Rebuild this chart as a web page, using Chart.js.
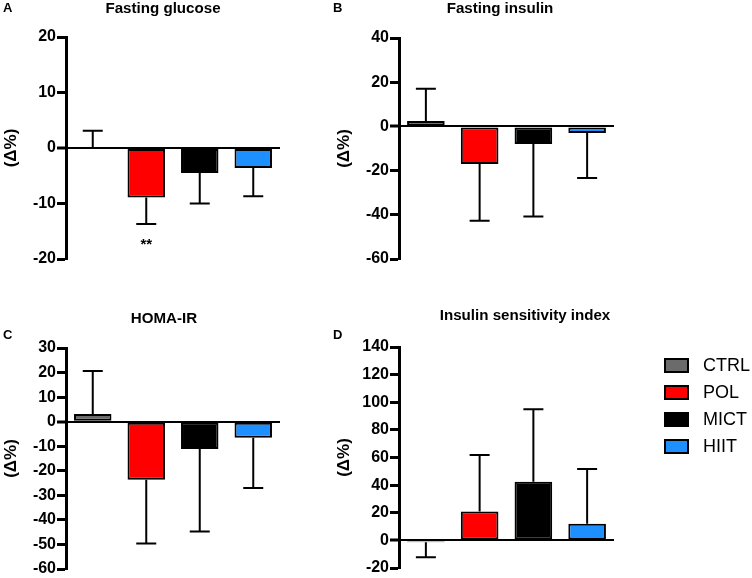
<!DOCTYPE html>
<html>
<head>
<meta charset="utf-8">
<script src="https://cdn.jsdelivr.net/npm/chart.js@4/dist/chart.umd.min.js"></script>
<style>
  body { margin: 0; background: #fff; font-family: "Liberation Sans", Arial, sans-serif; }
  #wrap { position: relative; width: 752px; height: 578px; overflow: hidden; }
  .panel { position: absolute; }
  .lbl { position: absolute; font-weight: bold; color: #000; white-space: nowrap; }
  .letter { font-size: 13px; }
  .title { font-size: 14px; transform: translateX(-50%) scaleX(1.08); }
  .legend { position: absolute; left: 664px; top: 352px; }
  .legend div { height: 27px; display: flex; align-items: center; font-size: 18px; }
  .legend span.box { display: inline-block; width: 25px; height: 15px; border: 2px solid #000; box-sizing: border-box; margin-right: 14px; }
</style>
</head>
<body>
<div id="wrap">
  <div class="panel" style="left:0;top:0;width:333px;height:290px"><canvas id="chartA"></canvas></div>
  <div class="panel" style="left:333px;top:0;width:419px;height:290px"><canvas id="chartB"></canvas></div>
  <div class="panel" style="left:0;top:290px;width:333px;height:288px"><canvas id="chartC"></canvas></div>
  <div class="panel" style="left:333px;top:290px;width:419px;height:288px"><canvas id="chartD"></canvas></div>

  <div class="lbl letter" style="left:3px;top:0px">A</div>
  <div class="lbl letter" style="left:333px;top:0px">B</div>
  <div class="lbl letter" style="left:3px;top:327px">C</div>
  <div class="lbl letter" style="left:333px;top:327px">D</div>

  <div class="lbl title" style="left:163px;top:0px">Fasting glucose</div>
  <div class="lbl title" style="left:500px;top:0px">Fasting insulin</div>
  <div class="lbl title" style="left:164px;top:310px">HOMA-IR</div>
  <div class="lbl title" style="left:525px;top:307px">Insulin sensitivity index</div>

  <div class="legend" id="legend"></div>
</div>
<script>
// groups and colours
const groups = ['CTRL', 'POL', 'MICT', 'HIIT'];
const groupColors = ['#6b6b6b', '#ff0000', '#000000', '#1e8fff'];

// mean change (%) and SD
const glucoseMean = [0.2, -8.9, -4.5, -3.6];
const glucoseSD = [2.9, 4.8, 5.5, 5.1];
const glucoseStars = ['', '**', '', ''];

const insulinMean = [2.4, -17, -8, -3];
const insulinSD = [14.6, 25.7, 32.8, 20.3];

const homaMean = [3.1, -23.7, -11.1, -6.6];
const homaSD = [17.5, 25.9, 33.6, 20.4];

const isiMean = [-1.4, 20.9, 42.4, 12];
const isiSD = [10.9, 41, 52.6, 39.7];

const FONT = '"Liberation Sans", Arial, sans-serif';

// one-sided error bars (away from zero) + significance marks
const errorBars = {
    id: 'errorBars',
    afterDatasetsDraw(chart) {
        const ctx = chart.ctx;
        const y = chart.scales.y;
        const meta = chart.getDatasetMeta(0);
        const ds = chart.data.datasets[0];
        ctx.save();
        ctx.strokeStyle = '#000';
        ctx.lineWidth = 2;
        meta.data.forEach((bar, i) => {
            const m = ds.data[i];
            const end = m + (m >= 0 ? 1 : -1) * ds.sd[i];
            const yEnd = y.getPixelForValue(end);
            ctx.beginPath();
            ctx.moveTo(bar.x, bar.y);
            ctx.lineTo(bar.x, yEnd);
            ctx.moveTo(bar.x - 10, yEnd);
            ctx.lineTo(bar.x + 10, yEnd);
            ctx.stroke();
            if (ds.stars && ds.stars[i]) {
                ctx.fillStyle = '#000';
                ctx.font = 'bold 15px ' + FONT;
                ctx.textAlign = 'center';
                ctx.textBaseline = 'top';
                ctx.fillText(ds.stars[i], bar.x, yEnd + 13);
            }
        });
        ctx.restore();
    }
};

function makeChart(id, mean, sd, stars, yMin, yMax, step, pad) {
    return new Chart(document.getElementById(id), {
        type: 'bar',
        data: {
            labels: groups,
            datasets: [{
                data: mean,
                sd: sd,
                stars: stars,
                backgroundColor: groupColors,
                borderColor: '#000',
                borderWidth: 2,
                borderSkipped: false,
                barPercentage: 0.7,
                categoryPercentage: 1
            }]
        },
        options: {
            responsive: true,
            maintainAspectRatio: false,
            animation: false,
            layout: { padding: pad },
            plugins: { legend: { display: false }, tooltip: { enabled: false } },
            scales: {
                x: { display: false },
                y: {
                    min: yMin,
                    max: yMax,
                    afterFit: s => { s.width = 66; },
                    ticks: {
                        stepSize: step,
                        color: '#000',
                        padding: 1,
                        font: { family: FONT, size: 16, weight: 'bold', lineHeight: 1 }
                    },
                    grid: {
                        color: c => (c.tick && c.tick.value === 0 ? '#000' : 'rgba(0,0,0,0)'),
                        lineWidth: c => (c.tick && c.tick.value === 0 ? 2 : 1),
                        tickColor: '#000',
                        tickWidth: 3,
                        tickLength: 9
                    },
                    border: { color: '#000', width: 3 },
                    title: {
                        display: true,
                        text: '(\u0394%)',
                        color: '#000',
                        padding: { top: 1, bottom: 0 },
                        font: { family: FONT, size: 17, weight: 'bold' }
                    }
                }
            }
        },
        plugins: [errorBars]
    });
}

makeChart('chartA', glucoseMean, glucoseSD, glucoseStars, -20, 20, 10,
    { left: 0, right: 53, top: 37, bottom: 31 });
makeChart('chartB', insulinMean, insulinSD, null, -60, 40, 20,
    { left: 0, right: 138, top: 38, bottom: 31 });
makeChart('chartC', homaMean, homaSD, null, -60, 30, 10,
    { left: 0, right: 53, top: 58, bottom: 8 });
makeChart('chartD', isiMean, isiSD, null, -20, 140, 20,
    { left: 0, right: 138, top: 57, bottom: 10 });

// legend
const legend = document.getElementById('legend');
groups.forEach((g, i) => {
    const row = document.createElement('div');
    row.innerHTML = '<span class="box" style="background:' + groupColors[i] + '"></span>' + g;
    legend.appendChild(row);
});
</script>
</body>
</html>
